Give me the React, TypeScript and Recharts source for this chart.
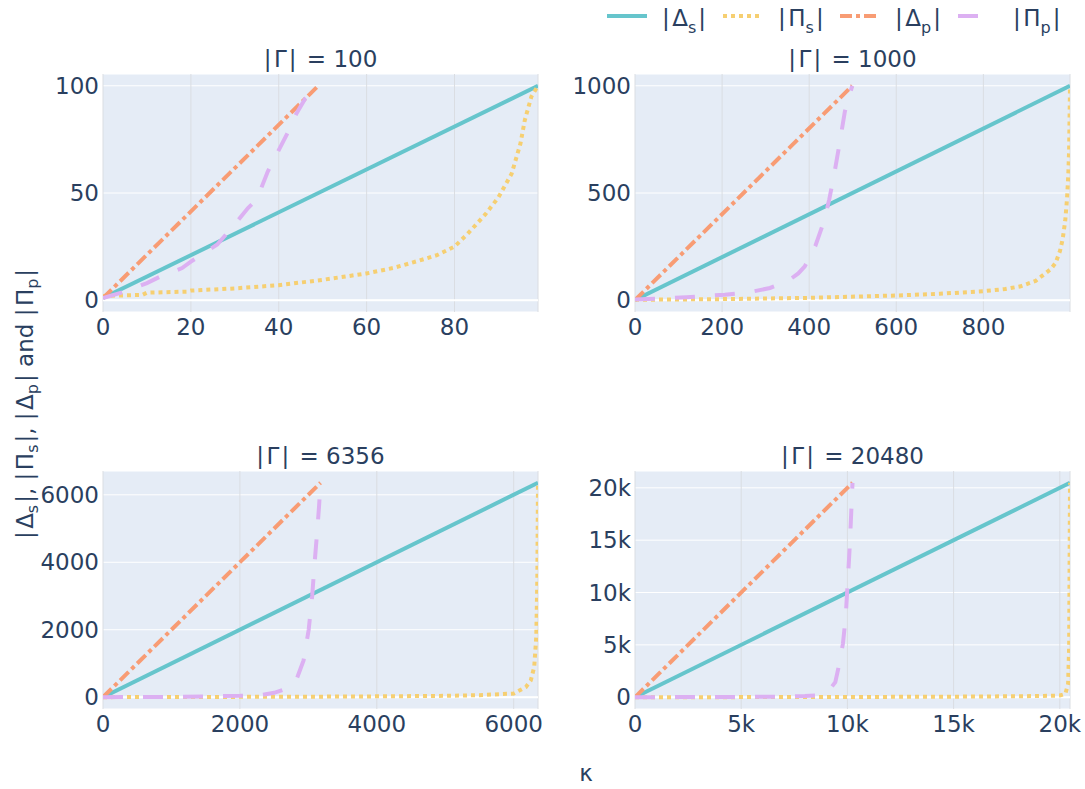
import React from "react";
import {
    LineChart,
    Line,
    XAxis,
    YAxis,
    CartesianGrid,
    ReferenceLine,
} from "recharts";

// [kappa, value] pairs, one list per trace and panel
const gammas = [100, 1000, 6356, 20480];

const deltaS100 = [[0, 1], [99, 100]];
const piS100 = [[0, 2], [9, 2.5], [10, 3.5], [19, 4], [20, 4.5], [30, 5.5], [40, 7], [50, 9.5], [60, 12.5], [66, 15], [72, 18.5], [76, 21], [80, 25], [83, 31], [87, 40], [90, 48], [93, 59], [95, 73], [96, 84], [97.5, 95], [99, 100]];
const deltaP100 = [[0, 1], [49, 100]];
const piP100 = [[0, 1], [5, 4], [10, 8], [13, 11], [18, 15], [20, 18], [26, 26], [29, 33], [33, 43], [35, 47], [37.5, 60], [40, 70], [42.5, 80], [44, 87], [46, 94], [49, 100]];

const deltaS1000 = [[0, 1], [999, 1000]];
const piS1000 = [[0, 2], [200, 5], [400, 11], [600, 22], [700, 30], [800, 42], [850, 52], [886, 65], [920, 90], [934, 112], [955, 145], [966, 174], [976, 230], [982, 283], [988, 370], [992, 469], [995, 580], [997, 702], [999, 1000]];
const deltaP1000 = [[0, 1], [499, 1000]];
const piP1000 = [[0, 3], [118, 14], [206, 26], [262, 37], [310, 57], [350, 88], [375, 125], [390, 158], [414, 252], [434, 368], [446, 469], [458, 593], [470, 733], [482, 880], [490, 940], [499, 1000]];

const deltaS6356 = [[0, 1], [6355, 6356]];
const piS6356 = [[0, 2], [1000, 5], [2000, 10], [3000, 15], [4000, 25], [5000, 40], [5500, 60], [6000, 110], [6177, 300], [6250, 500], [6300, 900], [6330, 1800], [6345, 3500], [6355, 6356]];
const deltaP6356 = [[0, 1], [3178, 6356]];
const piP6356 = [[0, 2], [1000, 10], [2000, 40], [2320, 70], [2500, 130], [2675, 250], [2830, 545], [2930, 1090], [3005, 2000], [3056, 3000], [3092, 3990], [3132, 4990], [3157, 5680], [3178, 6356]];

const deltaS20480 = [[0, 1], [20479, 20480]];
const piS20480 = [[0, 2], [5000, 8], [10000, 20], [15000, 50], [19000, 110], [20000, 160], [20260, 320], [20390, 1280], [20440, 5000], [20479, 20480]];
const deltaP20480 = [[0, 1], [10240, 20480]];
const piP20480 = [[0, 2], [4000, 20], [7000, 60], [8000, 110], [8480, 160], [9130, 640], [9430, 1440], [9620, 3200], [9790, 5130], [9920, 7700], [10030, 11540], [10110, 14420], [10200, 18590], [10240, 20480]];

const xTicks100 = [0, 20, 40, 60, 80];
const yTicks100 = [0, 50, 100];
const xTicks1000 = [0, 200, 400, 600, 800];
const yTicks1000 = [0, 500, 1000];
const xTicks6356 = [0, 2000, 4000, 6000];
const yTicks6356 = [0, 2000, 4000, 6000];
const xTicks20480 = [0, 5000, 10000, 15000, 20000];
const yTicks20480 = [0, 5000, 10000, 15000, 20000];

const INK = "#2a3f5f";
const FONT = '"DejaVu Sans", Verdana, sans-serif';
const COLORS = ["#66C5CC", "#F6CF71", "#F89C74", "#DCB0F2"];
const DASHES = [undefined, "4 4", "12 4 4 4", "20 20"];

// plot-area geometry
const PW = 435;
const PH = 238;
const COL_X = [103, 635];
const ROW_Y = [74, 471];
const Y_W = 80;
const X_H = 45;
const R_M = 25;
const T_M = 20;

const toPts = (arr: number[][]) => arr.map(([k, v]) => ({ k, v }));
const plain = (v: number) => String(v);
const kFmt = (v: number) => (v === 0 ? "0" : `${v / 1000}k`);

const panels = [
    { gamma: gammas[0], series: [deltaS100, piS100, deltaP100, piP100], xTicks: xTicks100, yTicks: yTicks100, fmt: plain, left: COL_X[0], top: ROW_Y[0] },
    { gamma: gammas[1], series: [deltaS1000, piS1000, deltaP1000, piP1000], xTicks: xTicks1000, yTicks: yTicks1000, fmt: plain, left: COL_X[1], top: ROW_Y[0] },
    { gamma: gammas[2], series: [deltaS6356, piS6356, deltaP6356, piP6356], xTicks: xTicks6356, yTicks: yTicks6356, fmt: plain, left: COL_X[0], top: ROW_Y[1] },
    { gamma: gammas[3], series: [deltaS20480, piS20480, deltaP20480, piP20480], xTicks: xTicks20480, yTicks: yTicks20480, fmt: kFmt, left: COL_X[1], top: ROW_Y[1] },
];

const tickStyle = { fill: INK, fontSize: 23, fontFamily: FONT };

function Panel({ p }: { p: any }) {
    return (
        <div style={{ position: "absolute", left: p.left - Y_W, top: p.top - T_M }}>
            <LineChart
                width={Y_W + PW + R_M}
                height={T_M + PH + X_H}
                margin={{ top: T_M, right: R_M, bottom: 0, left: 0 }}
            >
                <CartesianGrid fill="#E5ECF6" stroke="#ffffff" vertical={false} />
                <CartesianGrid stroke="#dadde2" horizontal={false} />
                <XAxis
                    type="number"
                    dataKey="k"
                    domain={[0, p.gamma - 1]}
                    ticks={p.xTicks}
                    interval={0}
                    allowDataOverflow
                    axisLine={false}
                    tickLine={false}
                    tickSize={0}
                    tickMargin={7}
                    tick={tickStyle}
                    tickFormatter={p.fmt}
                    height={X_H}
                />
                <YAxis
                    type="number"
                    domain={[-0.055 * p.gamma, 1.055 * p.gamma]}
                    ticks={p.yTicks}
                    interval={0}
                    allowDataOverflow
                    axisLine={false}
                    tickLine={false}
                    tickSize={0}
                    tickMargin={4}
                    tick={tickStyle}
                    tickFormatter={p.fmt}
                    width={Y_W}
                />
                <ReferenceLine y={0} stroke="#ffffff" strokeWidth={2} />
                {p.series.map((s: number[][], i: number) => (
                    <Line
                        key={i}
                        data={toPts(s)}
                        dataKey="v"
                        type="linear"
                        stroke={COLORS[i]}
                        strokeWidth={4}
                        strokeDasharray={DASHES[i]}
                        dot={false}
                        activeDot={false}
                        isAnimationActive={false}
                    />
                ))}
            </LineChart>
        </div>
    );
}

// |X_sub| with a little extra room around the bars, like the wider original font
function Sym({ base, sub }: { base: string; sub: string }) {
    return (
        <>
            <tspan>|</tspan>
            <tspan dx={2.5}>{base}</tspan>
            <tspan fontSize={16} dy={7}>{sub}</tspan>
            <tspan dy={-7} dx={2}>|</tspan>
        </>
    );
}

const legendItems = [
    { base: "Δ", sub: "s", x: 607 },
    { base: "Π", sub: "s", x: 723 },
    { base: "Δ", sub: "p", x: 840 },
    { base: "Π", sub: "p", x: 958 },
];

export default function App() {
    return (
        <div style={{ position: "absolute", left: 0, top: 0, width: 1085, height: 789, background: "#fff", fontFamily: FONT }}>
            {panels.map((p, i) => (
                <Panel key={i} p={p} />
            ))}
            <svg width={1085} height={789} style={{ position: "absolute", left: 0, top: 0, pointerEvents: "none" }}>
                {panels.map((p, i) => (
                    <text key={i} x={p.left + PW / 2} y={p.top - 7} textAnchor="middle" fill={INK} fontSize={23} fontFamily={FONT}>
                        <tspan>|</tspan>
                        <tspan dx={2.5}>Γ</tspan>
                        <tspan dx={2}>|</tspan>
                        <tspan dx={3}>{` = ${p.gamma}`}</tspan>
                    </text>
                ))}
                {legendItems.map((it, i) => (
                    <g key={i}>
                        <line x1={it.x} x2={it.x + 40} y1={16} y2={16} stroke={COLORS[i]} strokeWidth={4} strokeDasharray={DASHES[i]} />
                        <text x={it.x + 55} y={26} fill={INK} fontSize={23} fontFamily={FONT}>
                            <Sym base={it.base} sub={it.sub} />
                        </text>
                    </g>
                ))}
                <text
                    x={25}
                    y={404}
                    transform="rotate(-90, 25, 404)"
                    textAnchor="middle"
                    dominantBaseline="central"
                    fill={INK}
                    fontSize={23}
                    fontFamily={FONT}
                >
                    <Sym base="Δ" sub="s" />
                    <tspan>, </tspan>
                    <Sym base="Π" sub="s" />
                    <tspan>, </tspan>
                    <Sym base="Δ" sub="p" />
                    <tspan> and </tspan>
                    <Sym base="Π" sub="p" />
                </text>
                <text x={586} y={781} textAnchor="middle" fill={INK} fontSize={23} fontFamily={FONT}>
                    κ
                </text>
            </svg>
        </div>
    );
}
